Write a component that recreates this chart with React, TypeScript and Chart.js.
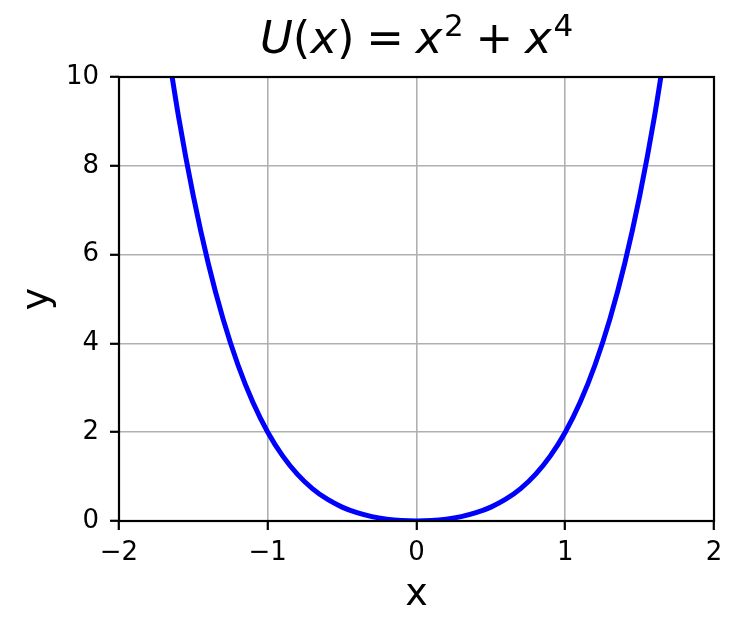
import React, { useEffect, useRef } from "react";
import { Chart, registerables } from "chart.js";

Chart.register(...registerables);

const xValues = [
  -1.7, -1.6, -1.5, -1.4, -1.3, -1.2, -1.1, -1.0, -0.9, -0.8, -0.7, -0.6, -0.5, -0.4, -0.3, -0.2, -0.1,
  0.0, 0.1, 0.2, 0.3, 0.4, 0.5, 0.6, 0.7, 0.8, 0.9, 1.0, 1.1, 1.2, 1.3, 1.4, 1.5, 1.6, 1.7,
];
const yValues = [
  11.242, 9.114, 7.313, 5.802, 4.546, 3.514, 2.674, 2.0, 1.466, 1.05, 0.73, 0.49, 0.313, 0.186, 0.098, 0.042, 0.01,
  0.0, 0.01, 0.042, 0.098, 0.186, 0.313, 0.49, 0.73, 1.05, 1.466, 2.0, 2.674, 3.514, 4.546, 5.802, 7.313, 9.114, 11.242,
];
const xTicks = [-2, -1, 0, 1, 2];
const yTicks = [0, 2, 4, 6, 8, 10];

const FONT = "'DejaVu Sans', sans-serif";

const titlePlugin = {
  id: "mathTitle",
  afterDraw(chart: any) {
    const { ctx, chartArea } = chart;
    const size = 45;
    const G = 0.26;
    const parts: { t: string; italic?: boolean; sup?: boolean; gapL?: number; gapR?: number }[] = [
      { t: "U", italic: true },
      { t: "(" },
      { t: "x", italic: true },
      { t: ")" },
      { t: "=", gapL: G, gapR: G },
      { t: "x", italic: true, gapR: 0.04 },
      { t: "2", sup: true },
      { t: "+", gapL: G, gapR: G },
      { t: "x", italic: true, gapR: 0.04 },
      { t: "4", sup: true },
    ];
    const fontFor = (p: any) =>
      `${p.italic ? "italic " : ""}${p.sup ? Math.round(size * 0.7) : size}px ${FONT}`;
    ctx.save();
    let total = 0;
    const widths: number[] = [];
    for (const p of parts) {
      ctx.font = fontFor(p);
      const w = ctx.measureText(p.t).width + ((p.gapL || 0) + (p.gapR || 0)) * size;
      widths.push(w);
      total += w;
    }
    const cx = (chartArea.left + chartArea.right) / 2;
    let x = cx - total / 2;
    const baseline = 53;
    ctx.fillStyle = "#000";
    ctx.textBaseline = "alphabetic";
    ctx.textAlign = "left";
    parts.forEach((p, i) => {
      ctx.font = fontFor(p);
      const y = p.sup ? baseline - size * 0.37 : baseline;
      ctx.fillText(p.t, x + (p.gapL || 0) * size, y);
      x += widths[i];
    });
    ctx.restore();
  },
};

const framePlugin = {
  id: "frame",
  afterDatasetsDraw(chart: any) {
    const { ctx, chartArea } = chart;
    ctx.save();
    ctx.strokeStyle = "#000";
    ctx.lineWidth = 2.2;
    ctx.strokeRect(chartArea.left, chartArea.top, chartArea.right - chartArea.left, chartArea.bottom - chartArea.top);
    ctx.restore();
  },
};

const fmt = (v: number) => (v < 0 ? "\u2212" + Math.abs(v) : String(v));

export default function App() {
  const ref = useRef<HTMLCanvasElement | null>(null);
  useEffect(() => {
    document.body.style.margin = "0";
    const canvas = ref.current!;
    const chart = new Chart(canvas, {
      type: "line",
      data: {
        datasets: [
          {
            data: xValues.map((x, i) => ({ x, y: yValues[i] })),
            borderColor: "#0000ff",
            borderWidth: 5,
            pointRadius: 0,
            fill: false,
            cubicInterpolationMode: "monotone",
          },
        ],
      },
      options: {
        animation: false,
        responsive: false,
        devicePixelRatio: 1,
        layout: { padding: { top: 77, right: 28, left: 0, bottom: 0 } },
        plugins: { legend: { display: false }, tooltip: { enabled: false }, title: { display: false } },
        scales: {
          x: {
            type: "linear",
            min: -2,
            max: 2,
            afterFit: (s: any) => {
              s.height = 112;
            },
            afterBuildTicks: (s: any) => {
              s.ticks = xTicks.map((v) => ({ value: v }));
            },
            ticks: {
              color: "#000",
              font: { family: FONT, size: 26 },
              padding: 8,
              callback: (v: any) => fmt(Number(v)),
              maxRotation: 0,
            },
            grid: {
              color: "#b0b0b0",
              lineWidth: 1.6,
              tickColor: "#000",
              tickWidth: 2.2,
              tickLength: 9,
              drawTicks: true,
            },
            border: { display: false },
            title: {
              display: true,
              text: "x",
              color: "#000",
              font: { family: FONT, size: 38 },
              padding: { top: 0, bottom: 15 },
            },
          },
          y: {
            type: "linear",
            min: 0,
            max: 10,
            afterFit: (s: any) => {
              s.width = 119;
            },
            afterBuildTicks: (s: any) => {
              s.ticks = yTicks.map((v) => ({ value: v }));
            },
            ticks: {
              color: "#000",
              font: { family: FONT, size: 26 },
              padding: 11,
              callback: (v: any) => fmt(Number(v)),
            },
            grid: {
              color: "#b0b0b0",
              lineWidth: 1.6,
              tickColor: "#000",
              tickWidth: 2.2,
              tickLength: 9,
              drawTicks: true,
            },
            border: { display: false },
            title: {
              display: true,
              text: "y",
              color: "#000",
              font: { family: FONT, size: 38 },
              padding: { top: 15, bottom: 0 },
            },
          },
        },
      },
      plugins: [titlePlugin, framePlugin],
    } as any);
    return () => chart.destroy();
  }, []);
  return (
    <div style={{ width: 742, height: 633, background: "#fff" }}>
      <canvas ref={ref} width={742} height={633} style={{ display: "block" }} />
    </div>
  );
}
